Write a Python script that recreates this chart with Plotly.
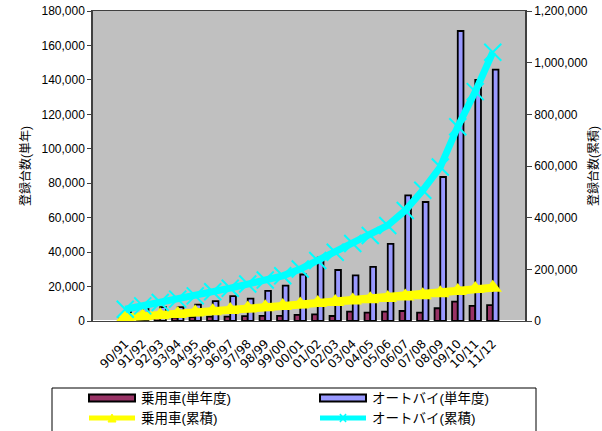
import plotly.graph_objects as go

# Fiscal years
years = ["90/91", "91/92", "92/93", "93/94", "94/95", "95/96", "96/97", "97/98",
         "98/99", "99/00", "00/01", "01/02", "02/03", "03/04", "04/05", "05/06",
         "06/07", "07/08", "08/09", "09/10", "10/11", "11/12"]

# Registrations per year (left axis)
car_year = [1500, 1800, 2000, 2000, 2200, 2500, 2500, 2800, 3000, 3000, 3500,
            3900, 2900, 5400, 4900, 5400, 5800, 4900, 7400, 11300, 8800, 9200]
bike_year = [7000, 9000, 8000, 8000, 9500, 11500, 14500, 13000, 17500, 20500, 27000,
             36800, 29600, 26500, 31400, 44800, 73000, 69100, 83600, 168400, 140000, 146000]

# Cumulative registrations (right axis)
car_cum = [14000, 18000, 22000, 27000, 33000, 38000, 43000, 48000, 53000, 58000, 64000,
           70000, 74000, 79000, 84000, 89000, 95000, 100000, 107000, 116000, 124000, 129000]
bike_cum = [45600, 58400, 71300, 84600, 97400, 113000, 127000, 143000, 158600, 175000, 201000,
            234000, 266000, 300000, 331000, 370000, 428000, 506000, 596000, 752000, 888000, 1040000]

names = ["乗用車(単年度)", "オートバイ(単年度)", "乗用車(累積)", "オートバイ(累積)"]
CAR_COLOR, BIKE_COLOR = "#993366", "#9999FF"
CAR_CUM_COLOR, BIKE_CUM_COLOR = "#FFFF00", "#00FFFF"

FONT = "Liberation Sans, Arial, Noto Sans CJK JP"
W, H = 602, 431
L, R, T, B = 93, 77, 11, 110
PW, PH = W - L - R, H - T - B


def px(x):
    return (x - L) / PW


def py(y):
    return (H - B - y) / PH


fig = go.Figure()
fig.add_trace(go.Bar(
    x=years, y=car_year, name=names[0],
    marker=dict(color=CAR_COLOR, line=dict(color="black", width=1.8)),
))
fig.add_trace(go.Bar(
    x=years, y=bike_year, name=names[1],
    marker=dict(color=BIKE_COLOR, line=dict(color="black", width=1.8)),
))
fig.add_trace(go.Scatter(
    x=years, y=car_cum, name=names[2], yaxis="y2", mode="lines+markers",
    line=dict(color=CAR_CUM_COLOR, width=8),
    marker=dict(symbol="triangle-up", size=16, color=CAR_CUM_COLOR),
))
fig.add_trace(go.Scatter(
    x=years, y=bike_cum, name=names[3], yaxis="y2", mode="lines+markers",
    line=dict(color=BIKE_CUM_COLOR, width=7),
    marker=dict(symbol="x-thin", size=17, line=dict(color=BIKE_CUM_COLOR, width=2)),
))

# Legend drawn in a box below the chart, two columns
shapes = [dict(type="rect", xref="paper", yref="paper",
               x0=px(52), x1=px(536), y0=py(445), y1=py(388),
               line=dict(color="black", width=1), fillcolor="white", layer="above")]
annotations = []
cols = [89, 320]
rows = [398, 418]
for i, name in enumerate(names):
    cx, cy = cols[i % 2], rows[i // 2]
    if i < 2:
        shapes.append(dict(type="rect", xref="paper", yref="paper",
                           x0=px(cx), x1=px(cx + 46), y0=py(cy + 3.5), y1=py(cy - 3.5),
                           line=dict(color="black", width=2),
                           fillcolor=CAR_COLOR if i == 0 else BIKE_COLOR, layer="above"))
    else:
        color = CAR_CUM_COLOR if i == 2 else BIKE_CUM_COLOR
        shapes.append(dict(type="line", xref="paper", yref="paper",
                           x0=px(cx), x1=px(cx + 46), y0=py(cy), y1=py(cy),
                           line=dict(color=color, width=5), layer="above"))
        mx = cx + 23
        if i == 2:
            shapes.append(dict(type="path", xref="paper", yref="paper",
                               path=f"M {px(mx - 4)} {py(cy + 4)} L {px(mx + 4)} {py(cy + 4)} "
                                    f"L {px(mx)} {py(cy - 4)} Z",
                               line=dict(color=color, width=1), fillcolor=color, layer="above"))
        else:
            for d in (1, -1):
                shapes.append(dict(type="line", xref="paper", yref="paper",
                                   x0=px(mx - 3), x1=px(mx + 3),
                                   y0=py(cy - 4 * d), y1=py(cy + 4 * d),
                                   line=dict(color=color, width=1.5), layer="above"))
    annotations.append(dict(xref="paper", yref="paper", x=px(cx + 50), y=py(cy),
                            xanchor="left", yanchor="middle", showarrow=False,
                            text=name, font=dict(family=FONT, size=13.5, color="black")))

fig.update_layout(
    width=W, height=H,
    margin=dict(l=L, r=R, t=T, b=B),
    paper_bgcolor="white", plot_bgcolor="#C0C0C0",
    font=dict(family=FONT, size=12, color="black"),
    barmode="group", bargap=0.35, bargroupgap=0.0,
    showlegend=False,
    shapes=shapes, annotations=annotations,
    xaxis=dict(
        type="category", tickangle=-45, showgrid=False,
        ticks="outside", ticklen=10, tickcolor="rgba(0,0,0,0)",
        showline=True, linecolor="#404040", linewidth=1, mirror=True,
        tickfont=dict(family="DejaVu Sans, Noto Sans CJK JP", size=12),
        automargin=False,
    ),
    yaxis=dict(
        range=[0, 180000], dtick=20000, tickformat=",", showgrid=False,
        ticks="outside", ticklen=4, tickcolor="#404040",
        showline=True, linecolor="#404040", linewidth=1.5, mirror=False,
        title=dict(text="登録台数(単年)", font=dict(size=12), standoff=8),
        automargin=False,
    ),
    yaxis2=dict(
        overlaying="y", side="right", range=[0, 1200000], dtick=200000,
        tickformat=",", showgrid=False, ticks="outside", ticklen=5,
        tickcolor="#404040", showline=True, linecolor="#404040", linewidth=1.5,
        title=dict(text="登録台数(累積)", font=dict(size=12), standoff=3),
        automargin=False,
    ),
)

fig.write_html("out.html")
